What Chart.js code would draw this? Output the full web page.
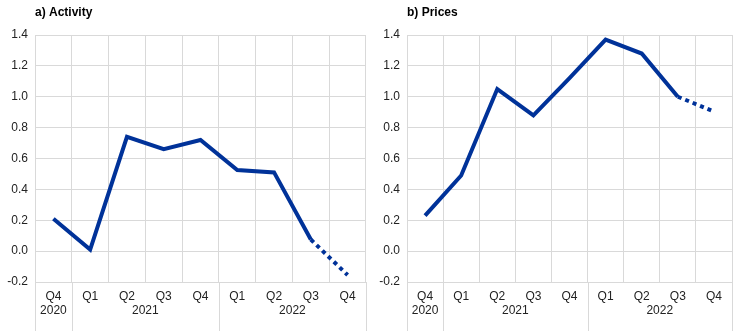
<!DOCTYPE html>
<html lang="en">
<head>
    <meta charset="UTF-8">
    <title>Activity and prices</title>
    <style>
        body {
            margin: 0;
            background: #fff;
            font-family: Arial, "Liberation Sans", sans-serif;
        }
        .panels {
            display: flex;
            width: 744px;
            height: 331px;
        }
        canvas {
            display: block;
        }
    </style>
</head>
<body>
    <div class="panels">
        <canvas id="activityChart" width="372" height="331"></canvas>
        <canvas id="pricesChart" width="372" height="331"></canvas>
    </div>

    <script src="https://cdn.jsdelivr.net/npm/chart.js@4/dist/chart.umd.min.js"></script>
    <script>
        // data
        const quarters = ['Q4', 'Q1', 'Q2', 'Q3', 'Q4', 'Q1', 'Q2', 'Q3', 'Q4'];
        const years = ['2020', '2021', '2022'];
        const yearSpans = [1, 4, 4];
        const activity = [0.21, 0.01, 0.74, 0.66, 0.72, 0.525, 0.51, 0.075, -0.155];
        const prices = [0.23, 0.49, 1.05, 0.88, 1.12, 1.37, 1.28, 1.0, 0.905];
        const yMin = -0.2, yMax = 1.4, yStep = 0.2;
        const dottedFrom = 7; // last segment (Q3 -> Q4 2022) is dotted

        const blue = '#003299';
        const gridColor = '#d9d9d9';
        const textColor = '#222';
        const fontFamily = 'Arial, "Liberation Sans", sans-serif';

        // year row under the quarter labels + panel title
        const extras = {
            id: 'extras',
            afterDraw(chart, args, opts) {
                const ctx = chart.ctx;
                const a = chart.chartArea;
                const x = chart.scales.x;
                ctx.save();
                ctx.strokeStyle = gridColor;
                ctx.lineWidth = 1;
                ctx.fillStyle = textColor;
                ctx.font = '12px ' + fontFamily;
                ctx.textAlign = 'center';
                ctx.textBaseline = 'middle';

                let start = 0;
                const edges = [0];
                years.forEach((yr, i) => {
                    const n = yearSpans[i];
                    const cx = x.getPixelForValue(start + n / 2 - 0.5);
                    ctx.fillText(yr, cx, 311);
                    start += n;
                    edges.push(start);
                });
                edges.forEach(e => {
                    const px = Math.round(x.getPixelForValue(e - 0.5)) + 0.5;
                    ctx.beginPath();
                    ctx.moveTo(px, a.bottom);
                    ctx.lineTo(px, chart.height);
                    ctx.stroke();
                });

                ctx.font = 'bold 12px ' + fontFamily;
                ctx.textAlign = 'left';
                ctx.fillStyle = '#000';
                ctx.fillText(opts.title, a.left, 13);
                ctx.restore();
            }
        };

        function fmt(v) {
            const n = Math.abs(v) < 1e-9 ? 0 : Number(v);
            return n.toFixed(1);
        }

        function makeChart(id, title, values, rightPad) {
            const ctx = document.getElementById(id).getContext('2d');
            return new Chart(ctx, {
                type: 'line',
                data: {
                    labels: quarters,
                    datasets: [{
                        data: values,
                        borderColor: blue,
                        borderWidth: 4,
                        pointRadius: 0,
                        tension: 0,
                        borderCapStyle: 'butt',
                        segment: {
                            borderDash: c => c.p0DataIndex >= dottedFrom ? [4, 4] : undefined
                        }
                    }]
                },
                options: {
                    responsive: false,
                    animation: false,
                    layout: { padding: { top: 35, right: rightPad, bottom: 0, left: 0 } },
                    plugins: {
                        legend: { display: false },
                        tooltip: { enabled: false },
                        extras: { title: title }
                    },
                    scales: {
                        x: {
                            offset: true,
                            grid: { color: gridColor, offset: true, drawTicks: false },
                            border: { display: false },
                            ticks: {
                                color: textColor,
                                font: { family: fontFamily, size: 12 },
                                padding: 7,
                                maxRotation: 0,
                                autoSkip: false
                            },
                            afterFit: s => { s.height = 49; }
                        },
                        y: {
                            min: yMin,
                            max: yMax,
                            grid: { color: gridColor, drawTicks: false },
                            border: { display: false },
                            ticks: {
                                stepSize: yStep,
                                color: textColor,
                                font: { family: fontFamily, size: 12 },
                                padding: 7,
                                callback: v => fmt(v)
                            },
                            afterFit: s => { s.width = 35; }
                        }
                    }
                },
                plugins: [extras]
            });
        }

        makeChart('activityChart', 'a) Activity', activity, 6);
        makeChart('pricesChart', 'b) Prices', prices, 12);
    </script>
</body>
</html>
